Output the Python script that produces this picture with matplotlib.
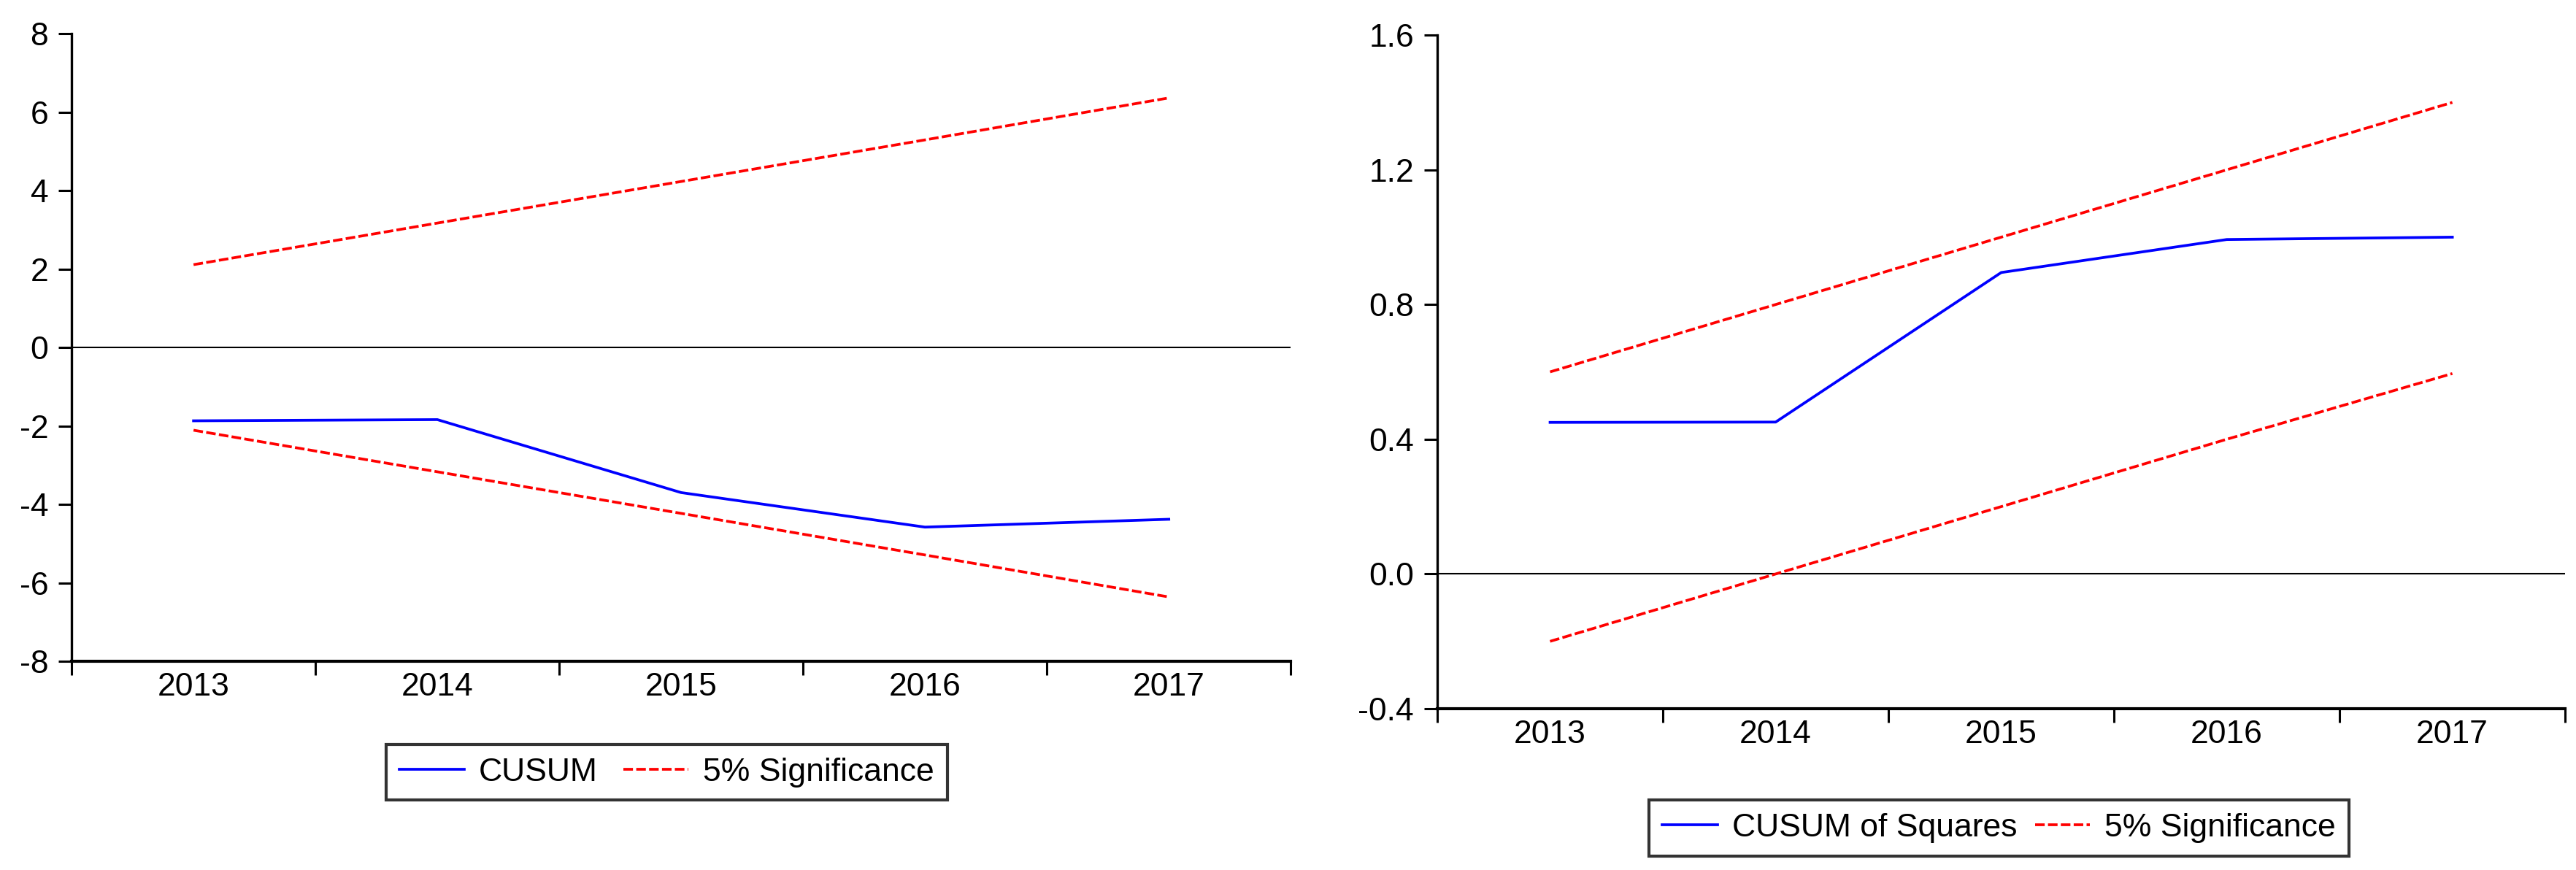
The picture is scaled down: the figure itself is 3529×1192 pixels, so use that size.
import numpy as np
import matplotlib
matplotlib.use("Agg")
import matplotlib.pyplot as plt

plt.rcParams['font.family'] = ['Liberation Sans', 'DejaVu Sans']

years = ["2013", "2014", "2015", "2016", "2017"]

# left panel: CUSUM
cusum = [-1.87, -1.84, -3.70, -4.58, -4.38]
cusum_upper = [2.11, 3.17, 4.23, 5.29, 6.36]
cusum_lower = [-2.11, -3.17, -4.23, -5.29, -6.36]
cusum_yticks = [-8, -6, -4, -2, 0, 2, 4, 6, 8]

# right panel: CUSUM of squares
cusumsq = [0.450, 0.451, 0.895, 0.993, 1.000]
sq_upper = [0.60, 0.80, 1.00, 1.20, 1.40]
sq_lower = [-0.20, 0.00, 0.20, 0.40, 0.595]
sq_yticks = [-0.4, 0.0, 0.4, 0.8, 1.2, 1.6]

FS = 32
LW = 2.7
DASH = (3.5, 1.2)

fig = plt.figure(figsize=(35.30, 11.92), dpi=100)
ax1 = fig.add_axes([0.0278, 0.2399, 0.5009 - 0.0278, 0.9614 - 0.2399])
ax2 = fig.add_axes([0.5578, 0.1854, 0.9955 - 0.5578, 0.9597 - 0.1854])


def style_axes(ax, yticks, ylim, fmt):
    x = np.arange(len(years))
    ax.set_xlim(-0.5, len(years) - 0.5)
    ax.set_ylim(*ylim)
    ax.spines['top'].set_visible(False)
    ax.spines['right'].set_visible(False)
    ax.spines['left'].set_linewidth(2.4)
    ax.spines['bottom'].set_linewidth(3.0)
    ax.set_xticks(np.arange(len(years) + 1) - 0.5)
    ax.set_xticklabels([])
    ax.set_xticks(x, minor=True)
    ax.set_xticklabels(years, minor=True)
    ax.tick_params(axis='x', which='major', direction='out', length=14, width=2.2)
    ax.tick_params(axis='x', which='minor', length=0, pad=11, labelsize=FS)
    ax.set_yticks(yticks)
    ax.set_yticklabels([fmt % v for v in yticks])
    ax.tick_params(axis='y', direction='out', length=13, width=2.2, pad=10, labelsize=FS)
    ax.axhline(0, color='black', linewidth=1.5, zorder=1)


x = np.arange(len(years))

ax1.plot(x, cusum, color='blue', linewidth=LW, label='CUSUM', zorder=3)
ax1.plot(x, cusum_upper, color='red', linewidth=LW, linestyle=(0, DASH), label='5% Significance', zorder=2)
ax1.plot(x, cusum_lower, color='red', linewidth=LW, linestyle=(0, DASH), zorder=2)
style_axes(ax1, cusum_yticks, (-8, 8), '%d')

ax2.plot(x, cusumsq, color='blue', linewidth=LW, label='CUSUM of Squares', zorder=3)
ax2.plot(x, sq_upper, color='red', linewidth=LW, linestyle=(0, DASH), label='5% Significance', zorder=2)
ax2.plot(x, sq_lower, color='red', linewidth=LW, linestyle=(0, DASH), zorder=2)
style_axes(ax2, sq_yticks, (-0.4, 1.6), '%.1f')


def add_legend(ax, cx, cy, hlen, colsp):
    leg = fig.legend(handles=ax.get_lines()[:2], loc='center', bbox_to_anchor=(cx, cy),
                     ncol=2, fontsize=FS, frameon=True, fancybox=False, shadow=False,
                     edgecolor='black', handlelength=hlen, handletextpad=0.45,
                     columnspacing=colsp, borderpad=0.4, borderaxespad=0)
    leg.get_frame().set_linewidth(3.0)
    return leg


add_legend(ax1, 0.2588, 0.1124, 2.0, 0.8)
add_legend(ax2, 0.7758, 0.0482, 1.7, 0.55)

fig.savefig("out.png", dpi=100)
